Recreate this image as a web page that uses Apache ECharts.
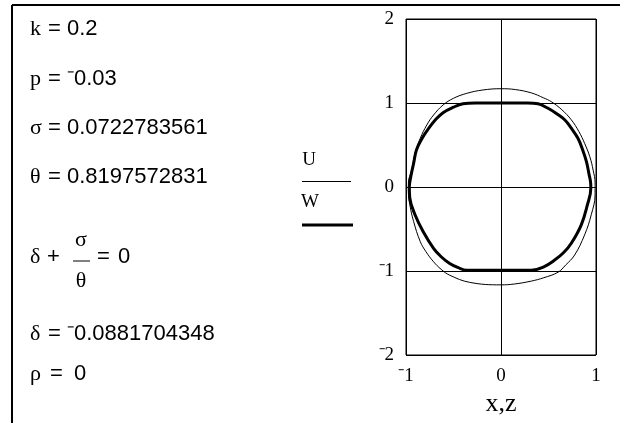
<!DOCTYPE html>
<html>
<head>
<meta charset="utf-8">
<script src="https://cdn.jsdelivr.net/npm/echarts@6/dist/echarts.min.js"></script>
<style>
  html, body { margin: 0; padding: 0; background: #fff; }
  #chart { width: 620px; height: 423px; }
</style>
</head>
<body>
<div id="chart"></div>
<script>
// Axis ticks and their printed labels
const xTicks = [-1, 0, 1];
const xTickLabels = ['\u207B1', '0', '1'];
const yTicks = [-2, -1, 0, 1, 2];
const yTickLabels = ['\u207B2', '\u207B1', '0', '1', '2'];

// Closed curve U against x (thin trace), points [x, U]
const uCurve = [
  [0.99, 0], [0.99, 0.05], [0.97, 0.20], [0.935, 0.36], [0.88, 0.52],
  [0.82, 0.66], [0.74, 0.80], [0.64, 0.92], [0.53, 1.015], [0.45, 1.06],
  [0.32, 1.12], [0.15, 1.16], [0, 1.17], [-0.19, 1.155], [-0.36, 1.115],
  [-0.50, 1.056], [-0.61, 0.976], [-0.71, 0.857], [-0.78, 0.74],
  [-0.85, 0.58], [-0.905, 0.40], [-0.94, 0.20], [-0.975, 0.05],
  [-0.975, -0.05], [-0.96, -0.21], [-0.92, -0.41], [-0.85, -0.65],
  [-0.79, -0.77], [-0.71, -0.89], [-0.63, -0.98], [-0.54, -1.05],
  [-0.33, -1.135], [0, -1.165], [0.14, -1.155], [0.32, -1.12],
  [0.45, -1.08], [0.60, -1.015], [0.68, -0.93], [0.775, -0.81],
  [0.88, -0.57], [0.95, -0.33], [0.99, -0.095], [0.99, 0]
];

// Closed curve W against z (heavy trace), points [z, W]
const wCurve = [
  [0.945, 0], [0.945, 0.03], [0.925, 0.16], [0.90, 0.30], [0.86, 0.44],
  [0.81, 0.58], [0.74, 0.70], [0.67, 0.80], [0.58, 0.877], [0.495, 0.937],
  [0.39, 0.99], [0.28, 1.0], [0, 1.0], [-0.27, 1.0], [-0.40, 0.99],
  [-0.50, 0.95], [-0.61, 0.885], [-0.69, 0.80], [-0.76, 0.70],
  [-0.83, 0.58], [-0.89, 0.44], [-0.92, 0.28], [-0.95, 0.12], [-0.965, 0],
  [-0.96, -0.13], [-0.905, -0.33], [-0.82, -0.53], [-0.71, -0.73],
  [-0.63, -0.83], [-0.54, -0.91], [-0.45, -0.96], [-0.36, -0.99],
  [0, -0.99], [0.32, -0.99], [0.45, -0.95], [0.565, -0.87], [0.66, -0.78],
  [0.74, -0.67], [0.845, -0.45], [0.91, -0.21], [0.945, -0.02], [0.945, 0]
];

// Parameter read-outs printed beside the plot
const paramNames = ['k', 'p', '\u03C3', '\u03B8'];
const paramValues = ['0.2', '\u207B0.03', '0.0722783561', '0.8197572831'];
const deltaValue = '\u207B0.0881704348';
const rhoValue = '0';

const seriesNames = ['U', 'W'];

const chart = echarts.init(document.getElementById('chart'), null, { renderer: 'canvas' });

const serif = "'Liberation Serif', 'Times New Roman', serif";
const sans = "'Liberation Sans', Arial, sans-serif";
const numFont = '22px ' + sans;
const varFont = '22px ' + serif;

const graphics = [];

// frame edges
graphics.push({ type: 'line', shape: { x1: 12, y1: 5, x2: 620, y2: 5 }, style: { stroke: '#000', lineWidth: 2 } });
graphics.push({ type: 'line', shape: { x1: 12, y1: 5, x2: 12, y2: 423 }, style: { stroke: '#000', lineWidth: 2 } });

function addText(x, y, text, font, align) {
  graphics.push({
    type: 'text',
    style: { x: x, y: y, text: text, font: font, fill: '#000', align: align || 'left', verticalAlign: 'middle' }
  });
}

// assignments: name = value
const rowY = [29, 79, 128, 177];
paramNames.forEach(function (n, i) {
  addText(30, rowY[i], n, varFont);
  addText(48, rowY[i], '=', numFont);
  addText(67, rowY[i], paramValues[i], numFont);
});

// delta + sigma/theta = 0
addText(30, 257, '\u03B4', varFont);
addText(47, 257, '+', numFont);
addText(81, 240, '\u03C3', varFont, 'center');
graphics.push({ type: 'line', shape: { x1: 73, y1: 261, x2: 90, y2: 261 }, style: { stroke: '#000', lineWidth: 1 } });
addText(81, 281, '\u03B8', varFont, 'center');
addText(97, 257, '=', numFont);
addText(118, 257, '0', numFont);

// delta value
addText(30, 334, '\u03B4', varFont);
addText(48, 334, '=', numFont);
addText(67, 334, deltaValue, numFont);

// rho
addText(30, 374, '\u03C1', varFont);
addText(50, 374, '=', numFont);
addText(74, 374, rhoValue, numFont);

// legend block
addText(309, 160, seriesNames[0], '19px ' + serif, 'center');
graphics.push({ type: 'line', shape: { x1: 302, y1: 181.5, x2: 351, y2: 181.5 }, style: { stroke: '#000', lineWidth: 1 } });
addText(310, 202, seriesNames[1], '19px ' + serif, 'center');
graphics.push({ type: 'line', shape: { x1: 302, y1: 225, x2: 353, y2: 225 }, style: { stroke: '#000', lineWidth: 3 } });

// horizontal axis title
addText(501, 404, 'x,z', '26px ' + serif, 'center');

const tickFont = { fontFamily: serif, fontSize: 19, color: '#000' };

chart.setOption({
  animation: false,
  backgroundColor: '#fff',
  grid: {
    left: 406, top: 19, width: 190, height: 336,
    show: true, borderColor: '#000', borderWidth: 1,
    outerBoundsMode: 'none'
  },
  xAxis: {
    type: 'value', min: xTicks[0], max: xTicks[xTicks.length - 1], interval: 1,
    axisLine: { show: false }, axisTick: { show: false },
    splitLine: { show: true, lineStyle: { color: '#000', width: 1 } },
    axisLabel: Object.assign({
      margin: 12,
      formatter: function (v) { return xTickLabels[xTicks.indexOf(v)]; }
    }, tickFont)
  },
  yAxis: {
    type: 'value', min: yTicks[0], max: yTicks[yTicks.length - 1], interval: 1,
    axisLine: { show: false }, axisTick: { show: false },
    splitLine: { show: true, lineStyle: { color: '#000', width: 1 } },
    axisLabel: Object.assign({
      margin: 12, padding: [4, 0, 0, 0],
      formatter: function (v) { return yTickLabels[yTicks.indexOf(v)]; }
    }, tickFont)
  },
  graphic: graphics,
  series: [
    {
      name: seriesNames[0], type: 'line', data: uCurve, showSymbol: false, smooth: 0.4,
      lineStyle: { color: '#000', width: 1 }, clip: false
    },
    {
      name: seriesNames[1], type: 'line', data: wCurve, showSymbol: false, smooth: 0.4,
      lineStyle: { color: '#000', width: 3 }, clip: false
    }
  ]
});
</script>
</body>
</html>
